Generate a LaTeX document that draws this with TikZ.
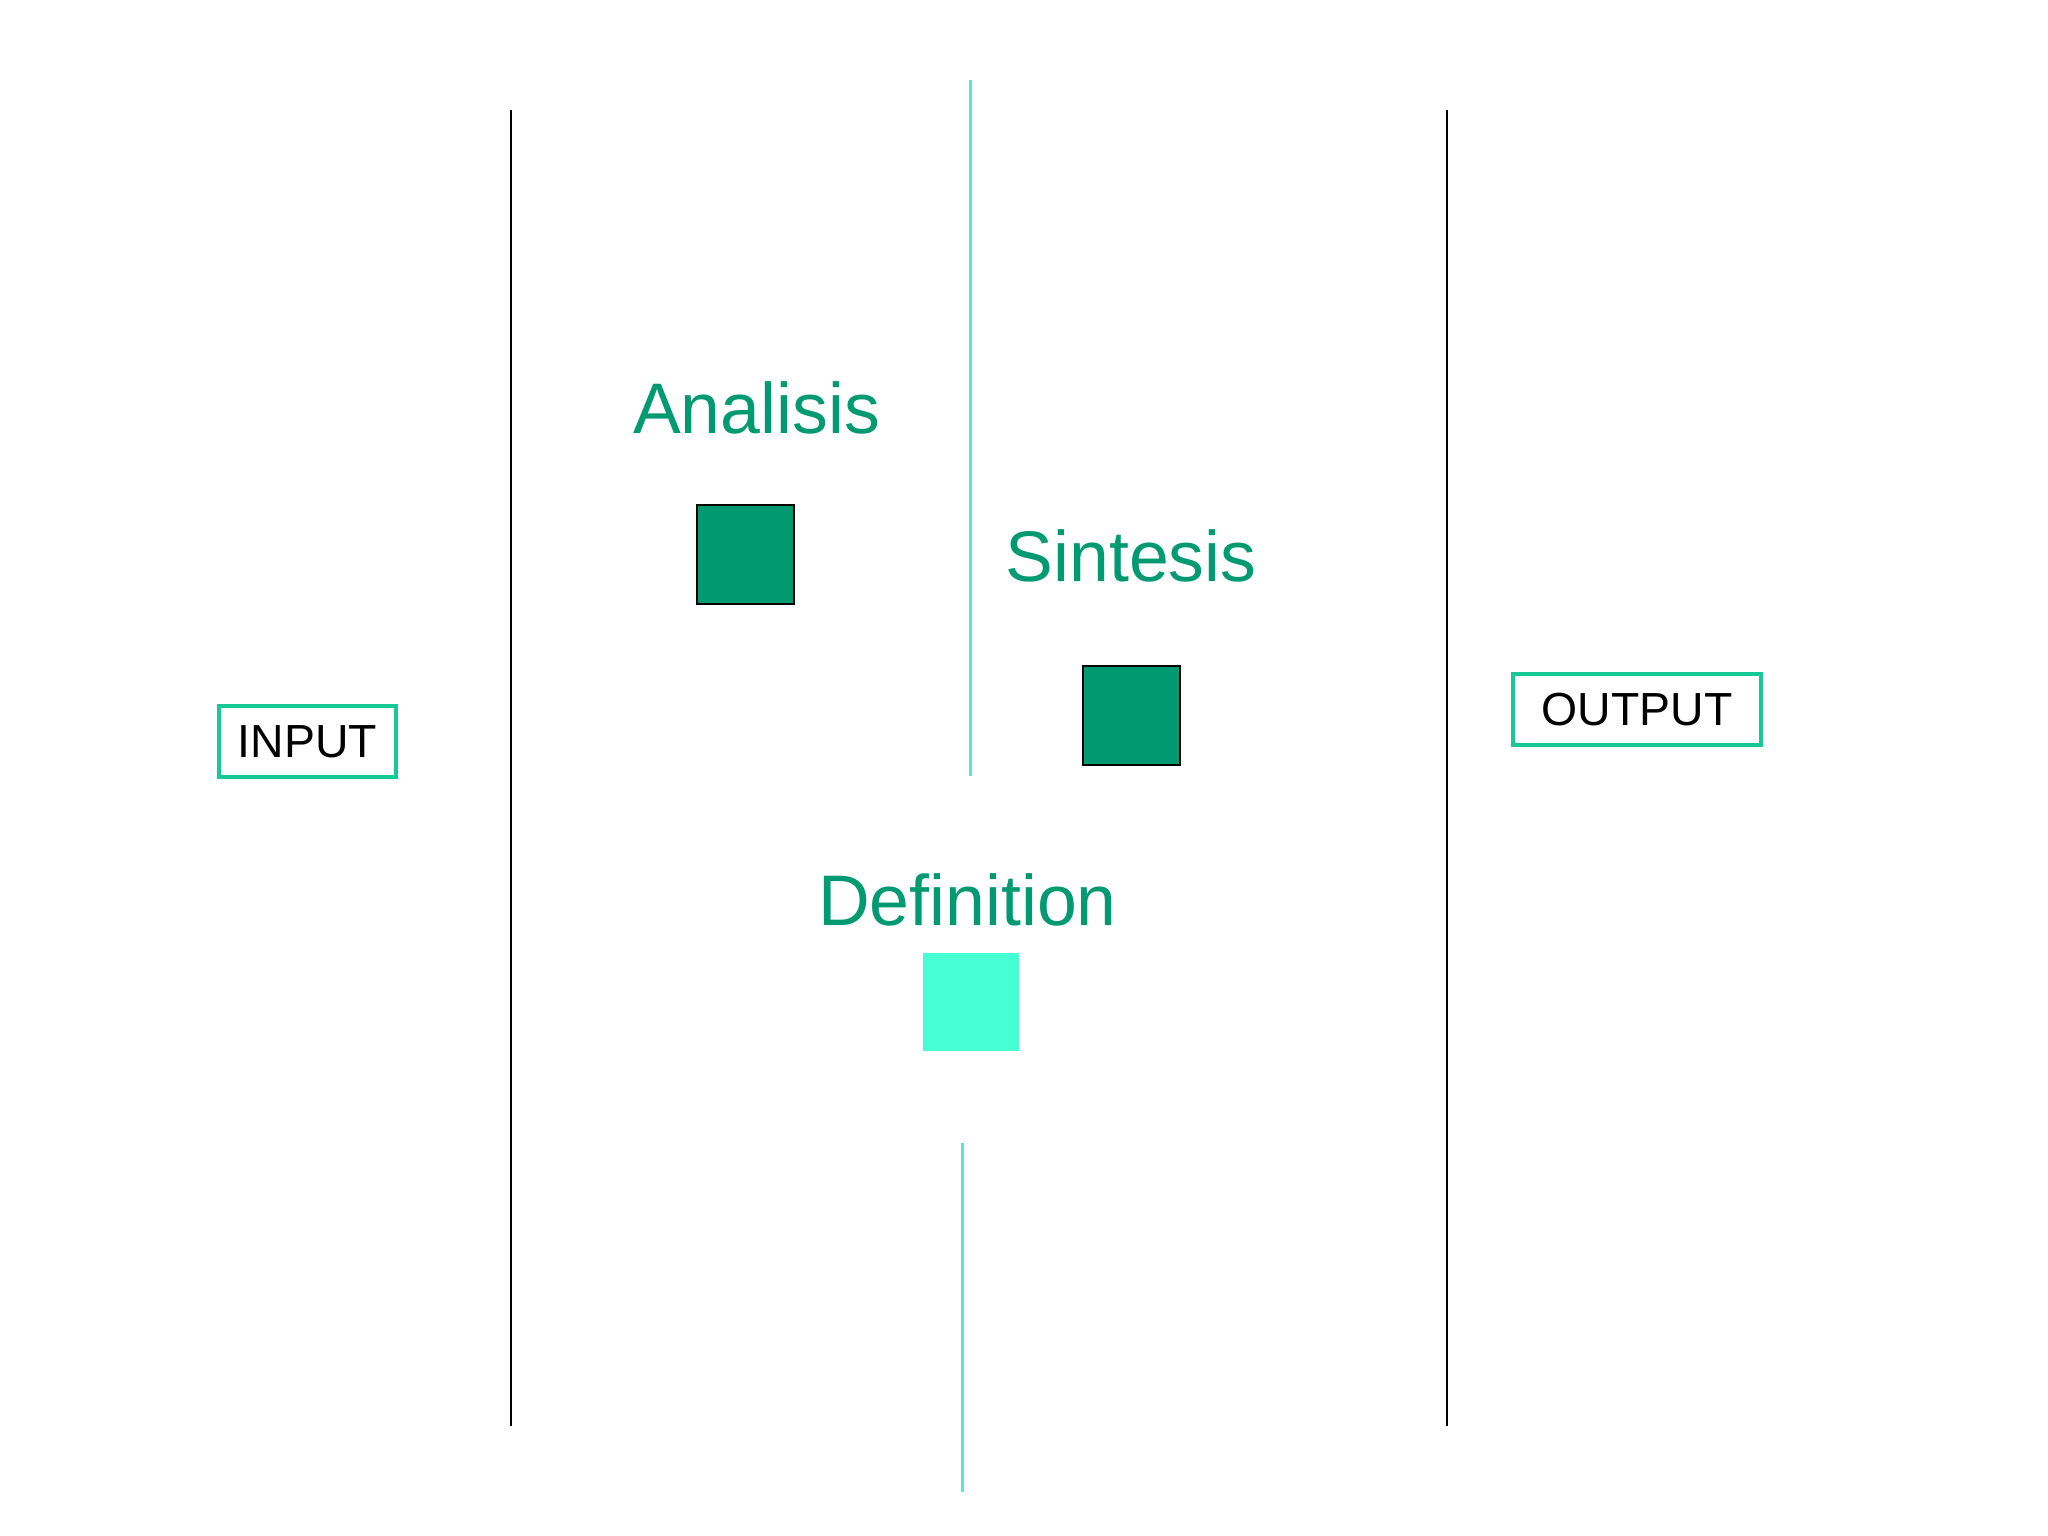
\documentclass[tikz,border=0pt]{standalone}
\usepackage{fontspec}
\setmainfont{Liberation Sans}
\definecolor{titlegreen}{HTML}{009A72}
\definecolor{boxfill}{HTML}{009970}
\definecolor{lightfill}{HTML}{46FFD2}
\definecolor{frameteal}{HTML}{17C994}
\definecolor{lineteal}{HTML}{55EBC8}
\tikzset{
  title/.style={text=titlegreen, font=\fontsize{35.8}{40}\selectfont, anchor=base, inner sep=0pt},
  darksq/.style={draw=black, line width=1pt, fill=boxfill, minimum width=48.5pt, minimum height=49.5pt, inner sep=0pt},
  lightsq/.style={fill=lightfill, minimum width=48pt, minimum height=49pt, inner sep=0pt},
  iobox/.style={draw=frameteal, line width=2.2pt, fill=white, font=\fontsize{23.2}{28}\selectfont, inner sep=0pt},
  divider/.style={draw=black, line width=1pt},
  axis/.style={draw=lineteal, line width=1.2pt}
}
\begin{document}
\begin{tikzpicture}[x=0.5pt,y=-0.5pt]
\useasboundingbox[fill=white] (0,0) rectangle (2048,1535);
% dividers
\draw[divider] (511,110) -- (511,1426);
\draw[divider] (1447,110) -- (1447,1426);
\draw[axis] (970.5,80) -- (970.5,776);
\draw[axis] (962.5,1143) -- (962.5,1492);
% titles
\node[title] (analisis) at (756.5,433) {Analisis};
\node[title] (sintesis) at (1131,581) {Sintesis};
\node[title] (definition) at (967.5,925) {Definition};
% squares
\node[darksq] (asq) at (745.5,554.5) {};
\node[darksq] (ssq) at (1131,715.5) {};
\node[lightsq] (dsq) at (971,1002) {};
% io boxes
\node[iobox, minimum width=88.3pt, minimum height=35.3pt] (input) at (307.5,741.5) {INPUT};
\node[iobox, minimum width=123.8pt, minimum height=35.3pt] (output) at (1637,709.5) {OUTPUT};
\end{tikzpicture}
\end{document}
